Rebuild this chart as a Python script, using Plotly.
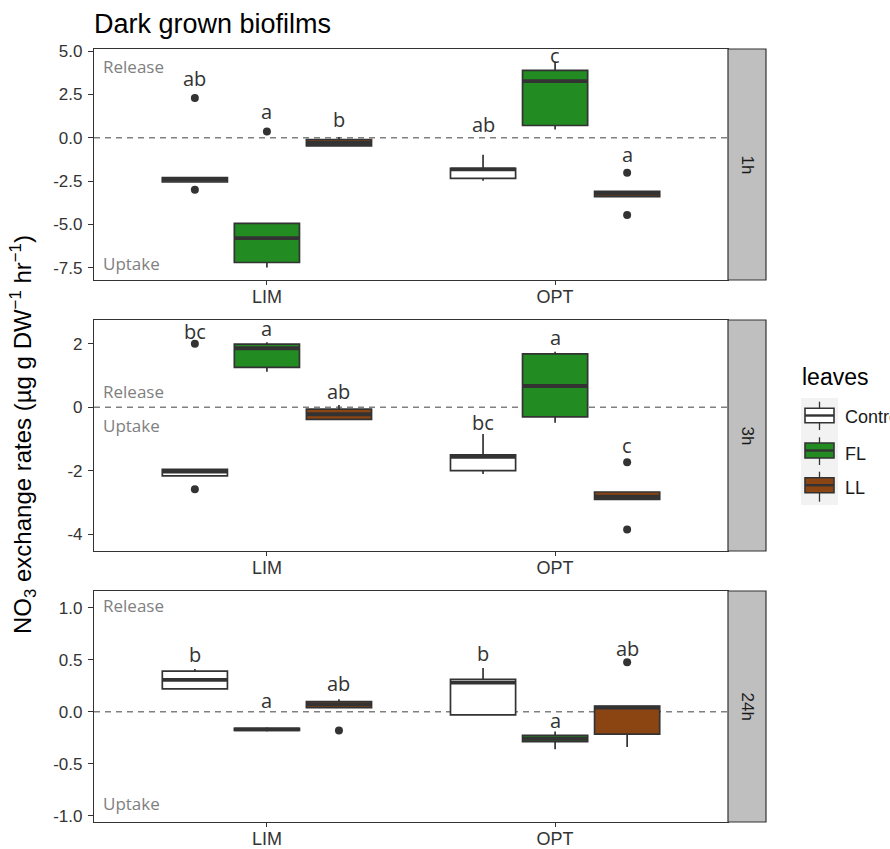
import plotly.graph_objects as go

# ---------------- data ----------------
times = ["1h", "3h", "24h"]
nutrients = ["LIM", "OPT"]
groups = ["Control", "FL", "LL"]
group_colors = ["#FFFFFF", "#228B22", "#8B4513"]

# order within each time: LIM-Control, LIM-FL, LIM-LL, OPT-Control, OPT-FL, OPT-LL
q1_1h = [-2.55, -7.19, -0.47, -2.34, 0.71, -3.39]
med_1h = [-2.42, -5.78, -0.30, -1.82, 3.27, -3.22]
q3_1h = [-2.30, -4.94, -0.10, -1.76, 3.89, -3.09]
lo_1h = [-2.55, -7.48, -0.47, -2.47, 0.48, -3.39]
hi_1h = [-2.30, -4.94, 0.05, -0.98, 4.37, -3.09]
out_1h = [[2.30, -3.00], [0.36], [], [], [], [-2.02, -4.45]]
let_1h = ["ab", "a", "b", "ab", "c", "a"]
lety_1h = [3.40, 1.50, 1.05, 0.75, 4.72, -0.98]

q1_3h = [-2.16, 1.26, -0.38, -2.00, -0.30, -2.90]
med_3h = [-2.03, 1.86, -0.22, -1.56, 0.67, -2.82]
q3_3h = [-1.96, 1.99, -0.06, -1.50, 1.68, -2.67]
lo_3h = [-2.16, 1.12, -0.38, -2.10, -0.49, -2.90]
hi_3h = [-1.96, 2.05, 0.07, -0.84, 1.75, -2.67]
out_3h = [[2.00, -2.58], [], [], [], [], [-1.73, -3.85]]
let_3h = ["bc", "a", "ab", "bc", "a", "c"]
lety_3h = [2.39, 2.49, 0.51, -0.49, 2.21, -1.19]

q1_24h = [0.22, -0.18, 0.04, -0.03, -0.288, -0.215]
med_24h = [0.305, -0.17, 0.07, 0.28, -0.26, 0.04]
q3_24h = [0.39, -0.16, 0.096, 0.31, -0.227, 0.055]
lo_24h = [0.22, -0.19, 0.04, -0.03, -0.36, -0.34]
hi_24h = [0.41, -0.15, 0.12, 0.42, -0.19, 0.055]
out_24h = [[], [], [-0.18], [], [], [0.475]]
let_24h = ["b", "a", "ab", "b", "a", "ab"]
lety_24h = [0.545, 0.106, 0.27, 0.555, -0.087, 0.61]

yticks_1h = [-7.5, -5.0, -2.5, 0.0, 2.5, 5.0]
yticks_3h = [-4, -2, 0, 2]
yticks_24h = [-1.0, -0.5, 0.0, 0.5, 1.0]
yrange_1h = [-8.2, 5.12]
yrange_3h = [-4.53, 2.75]
yrange_24h = [-1.06, 1.16]

release_y = [4.12, 0.49, 1.02]
uptake_y = [-7.26, -0.56, -0.88]

# ---------------- layout constants ----------------
W, H = 890, 849
ML, MR, MT, MB = 94, 124, 49, 27
PW = W - ML - MR
PH = H - MT - MB
def px2x(px):
    return (px - ML) / PW
def px2y(py):
    return (H - MB - py) / PH

panel_px = [(49, 280), (320, 551), (591, 822)]
xdom_end = px2x(728)
offsets = [-0.25, 0.0, 0.25]
box_w = 0.226
OUT = "#333333"
SANS = "Liberation Sans, Arial, sans-serif"
TICKFONT = dict(family=SANS, size=17, color="#333333")
LETFONT = dict(family="Open Sans, sans-serif", size=20, color="#333333")

panels = [
    (q1_1h, med_1h, q3_1h, lo_1h, hi_1h, out_1h, let_1h, lety_1h, yticks_1h, yrange_1h),
    (q1_3h, med_3h, q3_3h, lo_3h, hi_3h, out_3h, let_3h, lety_3h, yticks_3h, yrange_3h),
    (q1_24h, med_24h, q3_24h, lo_24h, hi_24h, out_24h, let_24h, lety_24h, yticks_24h, yrange_24h),
]

fig = go.Figure()
shapes = []
annotations = []

def fmt_tick(v, one_decimal):
    return f"{v:.1f}" if one_decimal else f"{v:.0f}"

for p, (q1, med, q3, lo, hi, outs, lets, letys, yt, yr) in enumerate(panels):
    sfx = "" if p == 0 else str(p + 1)
    xa, ya = "x" + sfx, "y" + sfx
    for g, gname in enumerate(groups):
        idx = [n * 3 + g for n in range(len(nutrients))]
        xs = [n + offsets[g] for n in range(len(nutrients))]
        fig.add_trace(go.Box(
            x=xs, q1=[q1[i] for i in idx], median=[med[i] for i in idx],
            q3=[q3[i] for i in idx], lowerfence=[lo[i] for i in idx],
            upperfence=[hi[i] for i in idx], width=box_w, whiskerwidth=0,
            fillcolor=group_colors[g], line=dict(color=OUT, width=1.7),
            boxpoints=False, showlegend=False, hoverinfo="skip",
            xaxis=xa, yaxis=ya))
        # thick median segments
        mx, my = [], []
        for k, i in enumerate(idx):
            mx += [xs[k] - box_w / 2, xs[k] + box_w / 2, None]
            my += [med[i], med[i], None]
        fig.add_trace(go.Scatter(x=mx, y=my, mode="lines",
                                 line=dict(color=OUT, width=3.8),
                                 showlegend=False, hoverinfo="skip",
                                 xaxis=xa, yaxis=ya))
        # outliers
        ox, oy = [], []
        for k, i in enumerate(idx):
            for v in outs[i]:
                ox.append(xs[k]); oy.append(v)
        if ox:
            fig.add_trace(go.Scatter(x=ox, y=oy, mode="markers",
                                     marker=dict(color=OUT, size=8),
                                     showlegend=False, hoverinfo="skip",
                                     xaxis=xa, yaxis=ya))
        # letters
        for k, i in enumerate(idx):
            annotations.append(dict(x=xs[k], y=letys[i], xref=xa, yref=ya,
                                    text=lets[i], showarrow=False,
                                    font=LETFONT, xanchor="center", yanchor="middle"))
    top, bot = panel_px[p]
    dom = [px2y(bot), px2y(top)]
    one_dec = any(abs(v - round(v)) > 1e-9 for v in yt)
    fig.update_layout(**{
        "xaxis" + sfx: dict(domain=[0, xdom_end], range=[-0.6, 1.6],
                            tickvals=list(range(len(nutrients))), ticktext=nutrients,
                            anchor=ya, showline=True, mirror=True, linecolor=OUT,
                            linewidth=1.2, ticks="outside", ticklen=4, tickcolor=OUT,
                            ticklabelstandoff=-4,
                            showgrid=False, zeroline=False, tickfont=dict(TICKFONT, size=18)),
        "yaxis" + sfx: dict(domain=dom, range=yr, tickvals=yt,
                            ticktext=[fmt_tick(v, one_dec) for v in yt],
                            anchor=xa, showline=True, mirror=True, linecolor=OUT,
                            linewidth=1.2, ticks="outside", ticklen=5, tickcolor=OUT,
                            ticklabelstandoff=2,
                            showgrid=False, zeroline=False, tickfont=TICKFONT),
    })
    # zero reference line
    shapes.append(dict(type="line", xref=xa + " domain", yref=ya, x0=0, x1=1, y0=0, y1=0,
                       line=dict(color="#808080", width=1.4, dash="6px,5px"), layer="below"))
    # strip
    shapes.append(dict(type="rect", xref="paper", yref=ya + " domain",
                       x0=xdom_end, x1=1, y0=0, y1=1,
                       fillcolor="#BFBFBF", line=dict(color=OUT, width=1.2)))
    annotations.append(dict(x=(xdom_end + 1) / 2, y=0.5, xref="paper", yref=ya + " domain",
                            text=times[p], textangle=90, showarrow=False,
                            xanchor="center", yanchor="middle",
                            font=dict(family=SANS, size=17, color="#1a1a1a")))
    # Release / Uptake labels
    for lab, yy in (("Release", release_y[p]), ("Uptake", uptake_y[p])):
        annotations.append(dict(x=0.011, y=yy, xref=xa + " domain", yref=ya, text=lab,
                                xanchor="left", yanchor="middle", showarrow=False,
                                font=dict(family="Open Sans, sans-serif", size=17,
                                          color="#808080")))

# y-axis title
annotations.append(dict(x=px2x(23), y=px2y(435), xref="paper", yref="paper",
                        text="NO<sub>3</sub> exchange rates (µg g DW<sup>−1</sup> hr<sup>−1</sup>)",
                        textangle=-90, showarrow=False, xanchor="center", yanchor="middle",
                        font=dict(family=SANS, size=24, color="black")))

# legend (drawn manually)
annotations.append(dict(x=px2x(800), y=px2y(377), xref="paper", yref="paper", text="leaves",
                        xanchor="left", yanchor="middle", showarrow=False,
                        font=dict(family=SANS, size=23, color="black")))
shapes.append(dict(type="rect", xref="paper", yref="paper", x0=px2x(801), x1=px2x(838),
                   y0=px2y(505), y1=px2y(398), fillcolor="#F2F2F2", line=dict(width=0),
                   layer="below"))
key_whisk = [(401.7, 430), (437.3, 465), (471.7, 501.7)]
key_box = [(408.3, 422.7), (443, 458), (477.7, 492.7)]
key_text_y = [417, 454, 488]
for g, gname in enumerate(groups):
    wx = px2x(819.5)
    shapes.append(dict(type="line", xref="paper", yref="paper", x0=wx, x1=wx,
                       y0=px2y(key_whisk[g][0]), y1=px2y(key_whisk[g][1]),
                       line=dict(color=OUT, width=1.3)))
    shapes.append(dict(type="rect", xref="paper", yref="paper", x0=px2x(805), x1=px2x(834),
                       y0=px2y(key_box[g][1]), y1=px2y(key_box[g][0]),
                       fillcolor=group_colors[g], line=dict(color=OUT, width=1.6)))
    mid = (key_box[g][0] + key_box[g][1]) / 2
    shapes.append(dict(type="line", xref="paper", yref="paper", x0=px2x(805), x1=px2x(834),
                       y0=px2y(mid), y1=px2y(mid), line=dict(color=OUT, width=2.4)))
    annotations.append(dict(x=px2x(843), y=px2y(key_text_y[g]), xref="paper", yref="paper",
                            text=gname, xanchor="left", yanchor="middle", showarrow=False,
                            font=dict(family=SANS, size=18, color="#1a1a1a")))

fig.update_layout(
    width=W, height=H,
    margin=dict(l=ML, r=MR, t=MT, b=MB, autoexpand=False),
    paper_bgcolor="white", plot_bgcolor="white",
    title=dict(text="Dark grown biofilms", x=ML / W, xref="container", xanchor="left",
               y=1 - 24 / H, yanchor="middle",
               font=dict(family=SANS, size=27, color="black")),
    shapes=shapes, annotations=annotations,
    showlegend=False,
)

fig.write_html("out.html")
